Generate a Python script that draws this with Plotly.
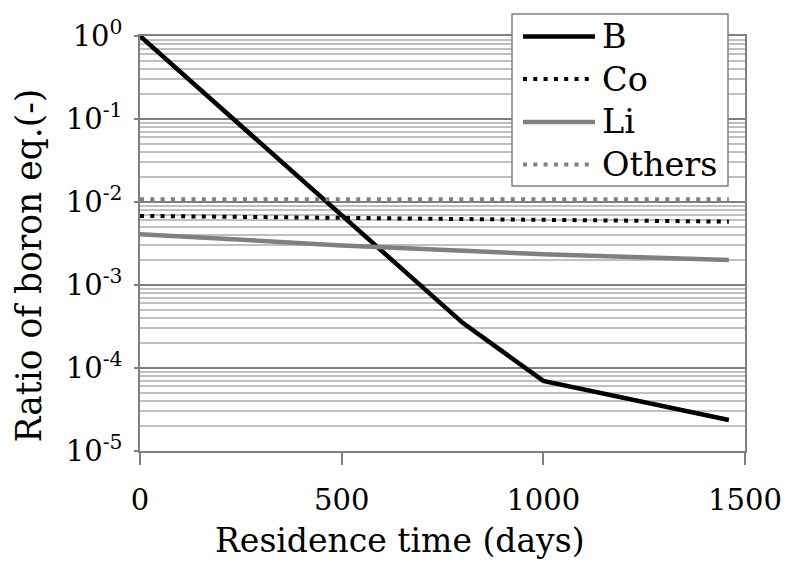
import plotly.graph_objects as go

days_B = [0, 800, 1000, 1460]
ratio_B = [1.0, 3.5e-4, 7.0e-5, 2.36e-5]

days_Co = [0, 500, 1000, 1460]
ratio_Co = [6.8e-3, 6.45e-3, 6.1e-3, 5.8e-3]

days_Li = [0, 500, 1000, 1460]
ratio_Li = [4.1e-3, 3.0e-3, 2.35e-3, 2.0e-3]

days_Others = [0, 500, 1000, 1460]
ratio_Others = [1.08e-2, 1.08e-2, 1.08e-2, 1.08e-2]

series_names = ["B", "Co", "Li", "Others"]
x_ticks = [0, 500, 1000, 1500]
y_tickvals = [1e0, 1e-1, 1e-2, 1e-3, 1e-4, 1e-5]
y_ticktext = ["10<sup>0</sup>", "10<sup>-1</sup>", "10<sup>-2</sup>",
              "10<sup>-3</sup>", "10<sup>-4</sup>", "10<sup>-5</sup>"]
x_title = "Residence time (days)"
y_title = "Ratio of boron eq.(-)"

FONT = "DejaVu Serif"
GRAY = "#808080"
DOT = "4px,6.3px"
styles = [dict(color="black", width=4.5),
          dict(color="black", width=4, dash=DOT),
          dict(color=GRAY, width=4.5),
          dict(color=GRAY, width=4, dash=DOT)]

# page has an 8px body margin; plot area spans px 140..745 (x), 36..451 (y)
W, H = 783, 560
L, R, T, B = 132, 46, 28, 117
PX0, PY0 = 8 + L, 8 + T
PW, PH = W - L - R, H - T - B


def px(xp):
    return (xp - PX0) / PW


def py(yp):
    return (PY0 + PH - yp) / PH


fig = go.Figure()
for name, xs, ys, st in zip(series_names,
                            [days_B, days_Co, days_Li, days_Others],
                            [ratio_B, ratio_Co, ratio_Li, ratio_Others],
                            styles):
    fig.add_trace(go.Scatter(x=xs, y=ys, mode="lines", name=name,
                             line=st, showlegend=False))

# custom legend box (long line samples as in the original)
shapes = [dict(type="rect", xref="paper", yref="paper",
               x0=px(512), x1=px(728), y0=py(186), y1=py(14),
               fillcolor="white", line=dict(color=GRAY, width=1.5),
               layer="above")]
annotations = []
row_y = [36.5, 79, 122, 164.5]
for name, st, yy in zip(series_names, styles, row_y):
    shapes.append(dict(type="line", xref="paper", yref="paper",
                       x0=px(523), x1=px(595), y0=py(yy), y1=py(yy),
                       line=st, layer="above"))
    annotations.append(dict(text=name, xref="paper", yref="paper",
                            x=px(600), y=py(yy), xanchor="left", yanchor="middle",
                            showarrow=False, font=dict(family=FONT, size=33.5)))

annotations.append(dict(text=y_title, textangle=-90, xref="paper", yref="paper",
                        x=px(28.5), y=py(266), xanchor="center", yanchor="middle",
                        showarrow=False, font=dict(family=FONT, size=34.5)))
annotations.append(dict(text=x_title, xref="paper", yref="paper",
                        x=px(400), y=py(540), xanchor="center", yanchor="middle",
                        showarrow=False, font=dict(family=FONT, size=33)))

fig.update_layout(
    width=W, height=H,
    margin=dict(l=L, r=R, t=T, b=B),
    paper_bgcolor="white", plot_bgcolor="white",
    font=dict(family=FONT, size=29, color="black"),
    showlegend=False,
    xaxis=dict(range=[0, 1500], tickvals=x_ticks, showgrid=False,
               showline=True, linecolor=GRAY, linewidth=1.5, mirror=True,
               ticks="outside", ticklen=12, tickcolor=GRAY, tickwidth=1.5,
               ticklabelstandoff=10, zeroline=False, automargin=False,
               tickfont=dict(family=FONT, size=29)),
    yaxis=dict(type="log", range=[-5, 0], tickvals=y_tickvals, ticktext=y_ticktext,
               showgrid=True, gridcolor=GRAY, gridwidth=1.5,
               minor=dict(showgrid=True, gridcolor="#c0c0c0", gridwidth=1.5,
                          dtick="D1"),
               showline=True, linecolor=GRAY, linewidth=1.5, mirror=True,
               ticks="outside", ticklen=4, tickcolor=GRAY, tickwidth=1.5,
               ticklabelstandoff=6, zeroline=False, automargin=False,
               tickfont=dict(family=FONT, size=29)),
    shapes=shapes,
    annotations=annotations,
)

fig.write_html("out.html")
